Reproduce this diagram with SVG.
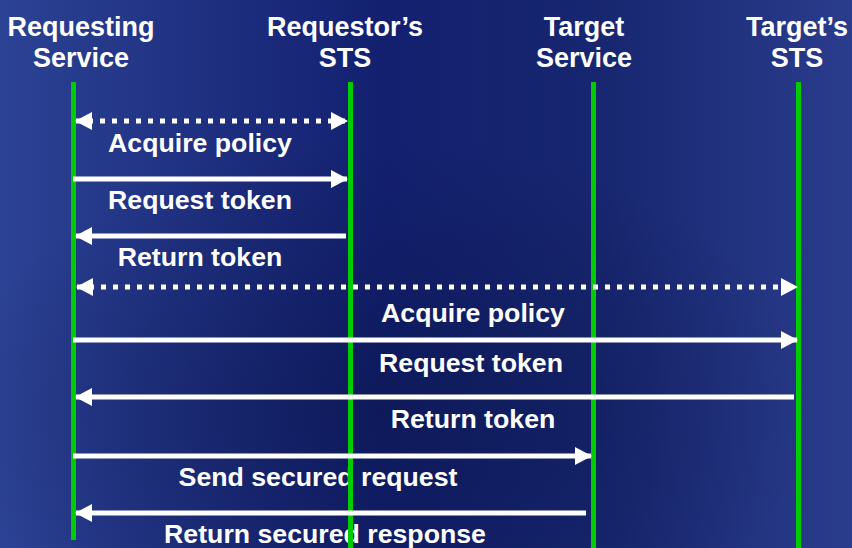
<svg xmlns="http://www.w3.org/2000/svg" width="852" height="548" viewBox="0 0 852 548">
<defs>
<linearGradient id="bg" x1="0" y1="0" x2="1" y2="0">
<stop offset="0" stop-color="#2c4294"/>
<stop offset="0.45" stop-color="#132070"/>
<stop offset="0.7" stop-color="#17266f"/>
<stop offset="1" stop-color="#2a3c8c"/>
</linearGradient>
<radialGradient id="shade" cx="0.45" cy="0.75" r="0.5">
<stop offset="0" stop-color="#0a1448" stop-opacity="0.55"/>
<stop offset="1" stop-color="#0a1448" stop-opacity="0"/>
</radialGradient>
<marker id="ah" markerWidth="17" markerHeight="18" refX="16" refY="9" orient="auto-start-reverse" markerUnits="userSpaceOnUse">
<path d="M0,0 L17,9 L0,18 Z" fill="#ffffff"/>
</marker>
<style>
.hd{font-family:"Liberation Sans",Arial,sans-serif;font-weight:bold;font-size:27px;fill:#ffffff;text-anchor:middle}
.lb{font-family:"Liberation Sans",Arial,sans-serif;font-weight:bold;font-size:26.7px;fill:#ffffff;text-anchor:middle}
.life{stroke:#00cc00;stroke-width:5;fill:none}
.msg{stroke:#ffffff;stroke-width:5;fill:none}
.dot{stroke:#ffffff;stroke-width:5;stroke-dasharray:5 7;fill:none}
</style>
</defs>
<rect x="0" y="0" width="852" height="548" fill="url(#bg)"/>
<rect x="0" y="0" width="852" height="548" fill="url(#shade)"/>
<g id="labels">
<text class="lb" x="200" y="152">Acquire policy</text>
<text class="lb" x="200" y="209">Request token</text>
<text class="lb" x="200" y="266">Return token</text>
<text class="lb" x="473" y="322">Acquire policy</text>
<text class="lb" x="471" y="372">Request token</text>
<text class="lb" x="473" y="428">Return token</text>
<text class="lb" x="318" y="486">Send secured request</text>
<text class="lb" x="325" y="543">Return secured response</text>
</g>
<g id="node-requesting-service">
<text class="hd" x="81" y="36">Requesting</text>
<text class="hd" x="81" y="67">Service</text>
<line class="life" x1="73.5" y1="82" x2="73.5" y2="540"/>
</g>
<g id="node-requestors-sts">
<text class="hd" x="345" y="36">Requestor’s</text>
<text class="hd" x="345" y="67">STS</text>
<line class="life" x1="350.5" y1="82" x2="350.5" y2="548"/>
</g>
<g id="node-target-service">
<text class="hd" x="584" y="36">Target</text>
<text class="hd" x="584" y="67">Service</text>
<line class="life" x1="593.5" y1="82" x2="593.5" y2="548"/>
</g>
<g id="node-targets-sts">
<text class="hd" x="797" y="36">Target’s</text>
<text class="hd" x="797" y="67">STS</text>
<line class="life" x1="798.5" y1="82" x2="798.5" y2="548"/>
</g>
<g id="connectors">
<line class="dot" x1="76" y1="121" x2="347" y2="121" marker-start="url(#ah)" marker-end="url(#ah)"/>
<line class="msg" x1="73" y1="179" x2="347" y2="179" marker-end="url(#ah)"/>
<line class="msg" x1="346" y1="236" x2="76" y2="236" marker-end="url(#ah)"/>
<line class="dot" x1="77" y1="287" x2="797" y2="287" marker-start="url(#ah)" marker-end="url(#ah)"/>
<line class="msg" x1="73" y1="340" x2="797" y2="340" marker-end="url(#ah)"/>
<line class="msg" x1="794" y1="397" x2="76" y2="397" marker-end="url(#ah)"/>
<line class="msg" x1="73" y1="456" x2="591" y2="456" marker-end="url(#ah)"/>
<line class="msg" x1="586" y1="513" x2="76" y2="513" marker-end="url(#ah)"/>
</g>
</svg>
